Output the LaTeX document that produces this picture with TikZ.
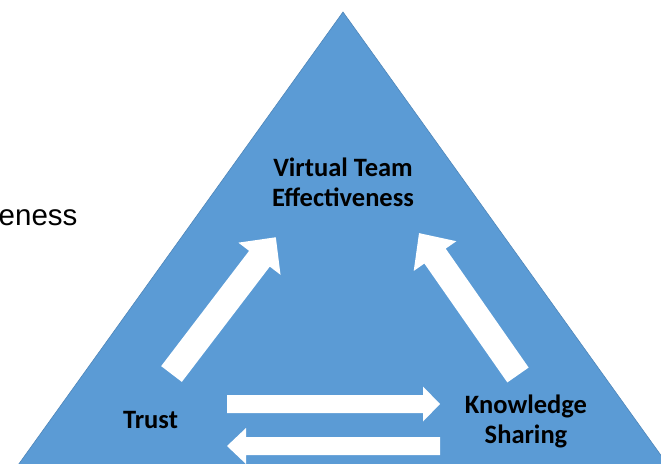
\documentclass[tikz,border=0pt]{standalone}
\usepackage{fontspec}
\setmainfont{Carlito}
\newfontfamily\arialfont{Liberation Sans}
\definecolor{triblue}{HTML}{5B9BD5}
\definecolor{triedge}{HTML}{4F86B9}
\begin{document}
\begin{tikzpicture}[x=1pt,y=-1pt,
  lbl/.style={font=\fontsize{26.5}{30}\selectfont\bfseries, align=center, inner sep=0pt, text=black},
  pics/barrow/.style n args={4}{code={
    \fill[white] (0,-#2/2) -- (#1-#4,-#2/2) -- (#1-#4,-#3/2) -- (#1,0)
      -- (#1-#4,#3/2) -- (#1-#4,#2/2) -- (0,#2/2) -- cycle;}}]
\useasboundingbox (0,0) rectangle (661,463);
\clip (0,0) rectangle (661,463);
% triangle
\coordinate (apex) at (343,12);
\coordinate (bl) at (-7,500);
\coordinate (br) at (693,500);
\filldraw[fill=triblue, draw=triedge, line width=0.6pt] (apex) -- (bl) -- (br) -- cycle;
% cut-off text at left
\node[font=\arialfont\fontsize{29.5}{32}\selectfont, anchor=base west, inner sep=0pt] (eness) at (-1.5,225.5) {eness};
% labels
\node[lbl] (vte) at (343,182) {Virtual Team\\Effectiveness};
\node[lbl, anchor=base] (trust) at (150.5,428) {Trust};
\node[lbl] (ks) at (526,421) {Knowledge\\Sharing};
% block arrows
\coordinate (a1) at (171.5,374);
\coordinate (a2) at (518,375);
\coordinate (a3) at (227,404);
\coordinate (a4) at (440,446);
\pic[rotate=52.66] at (a1) {barrow={172}{26}{53}{27}};
\pic[rotate=124.9] at (a2) {barrow={173}{26}{52}{28}};
\pic at (a3) {barrow={213}{18}{35}{17}};
\pic[rotate=180] at (a4) {barrow={213}{18}{36}{19}};
\end{tikzpicture}
\end{document}
